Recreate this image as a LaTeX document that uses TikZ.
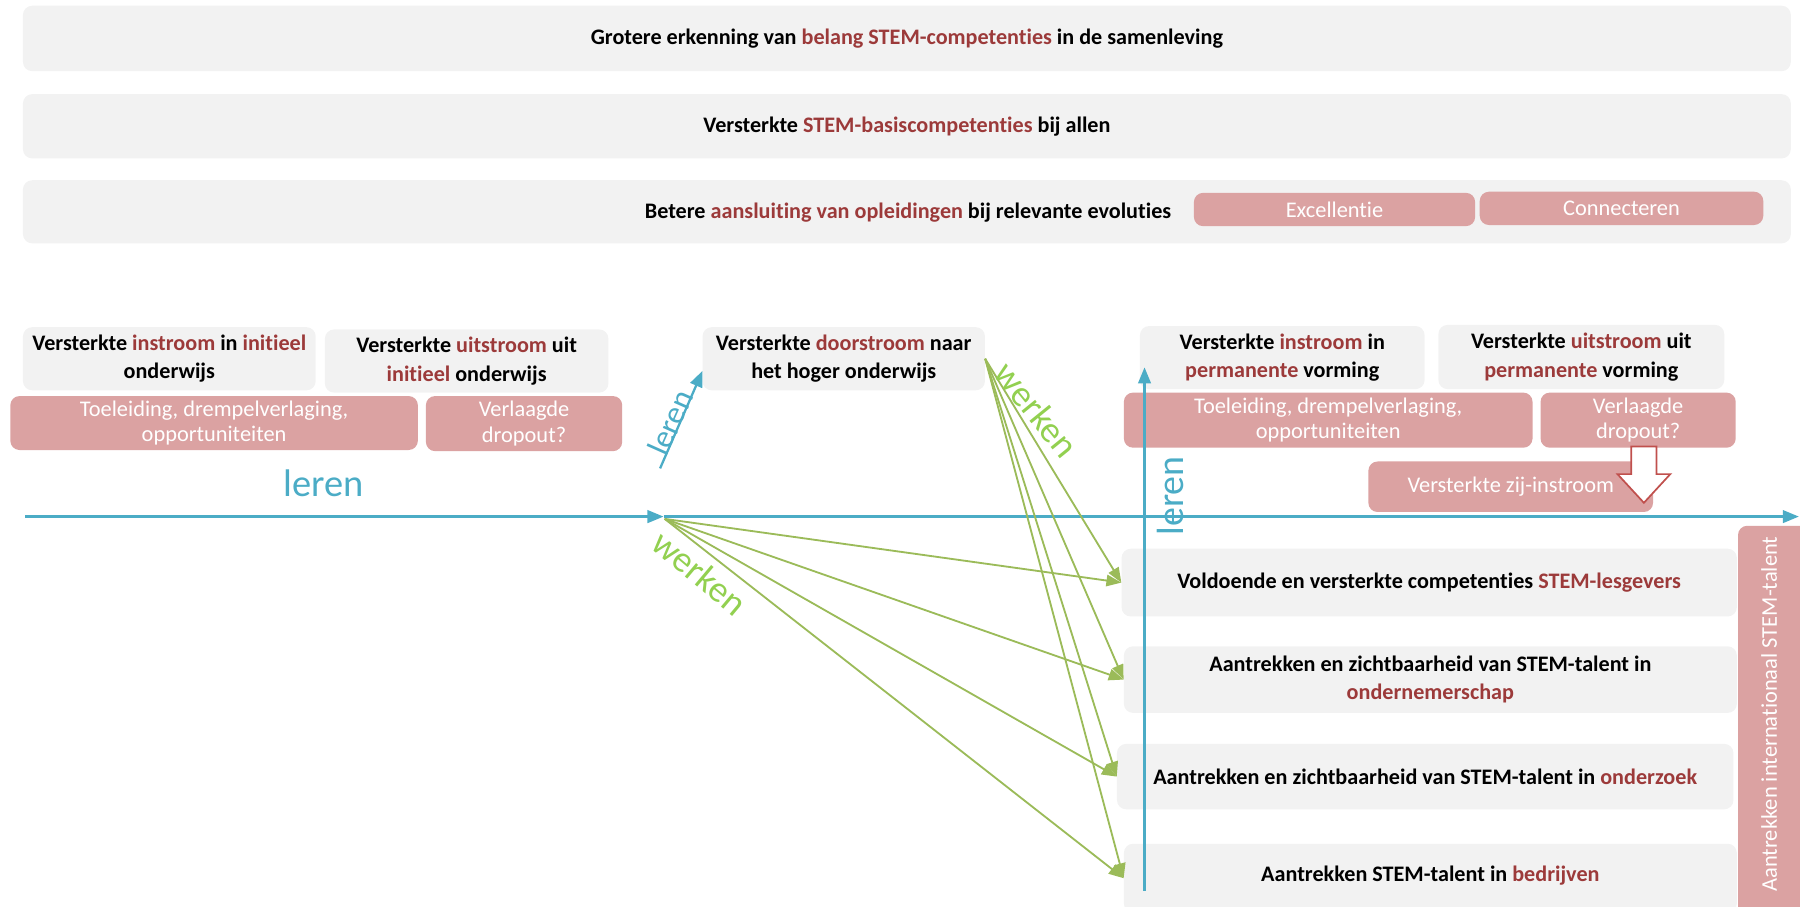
\documentclass[tikz,border=0pt]{standalone}
\usepackage{fontspec}
\setmainfont{Carlito}[Ligatures={NoCommon}]
\usetikzlibrary{arrows.meta}
\definecolor{boxgray}{HTML}{F2F2F2}
\definecolor{pinkf}{HTML}{DBA2A2}
\definecolor{dred}{HTML}{9C3A3A}
\definecolor{lblue}{HTML}{4BACC6}
\definecolor{lgreen}{HTML}{9BBB59}
\definecolor{tgreen}{HTML}{92D050}
\definecolor{arrred}{HTML}{C0504D}
\newcommand\redt[1]{\textcolor{dred}{#1}}
\begin{document}
\begin{tikzpicture}[x=1pt,y=-1pt,
  graybox/.style={fill=boxgray, rounded corners=8pt, inner sep=0pt, align=center,
    font=\fontsize{19.3}{25}\selectfont\bfseries},
  pinkbox/.style={fill=pinkf, rounded corners=8pt, inner sep=0pt, align=center,
    text=white, font=\fontsize{19.5}{22}\selectfont},
  bluearr/.style={draw=lblue, line width=2pt, -{Triangle[length=14pt,width=11pt]}},
  greenarr/.style={draw=lgreen, line width=1.6pt, -{Triangle[length=13pt,width=10pt]}},
  bluetxt/.style={text=lblue, inner sep=0pt},
  greentxt/.style={text=tgreen, inner sep=0pt, font=\fontsize{32}{32}\selectfont}
]
\useasboundingbox (0,0) rectangle (1568,790);
\clip (0,0) rectangle (1568,790);

% top bands
\node[graybox, minimum width=1540pt, minimum height=57pt] (top1) at (790,33.5)
  {Grotere erkenning van \redt{belang STEM-competenties} in de samenleving};
\node[graybox, minimum width=1540pt, minimum height=56pt] (top2) at (790,110)
  {Versterkte \redt{STEM-basiscompetenties} bij allen};
\node[graybox, minimum width=1540pt, minimum height=55pt] (top3) at (790,184.5) {};
\node[inner sep=0pt, font=\fontsize{19.3}{25}\selectfont\bfseries] (top3t) at (791,185)
  {Betere \redt{aansluiting van opleidingen} bij relevante evoluties};
\node[pinkbox, minimum width=245pt, minimum height=29pt] (exc) at (1162.5,182.5) {Excellentie};
\node[pinkbox, minimum width=247pt, minimum height=29pt] (con) at (1412.5,181.5) {Connecteren};

% left section
\node[graybox, minimum width=255pt, minimum height=55pt] (in1) at (147.5,312.5)
  {Versterkte \redt{instroom} in \redt{initieel}\\onderwijs};
\node[graybox, minimum width=247pt, minimum height=55pt] (uit1) at (406.5,314.5)
  {Versterkte \redt{uitstroom} uit\\\redt{initieel} onderwijs};
\node[pinkbox, minimum width=355pt, minimum height=47pt] (toel1) at (186.5,368.5)
  {Toeleiding, drempelverlaging,\\opportuniteiten};
\node[pinkbox, minimum width=171pt, minimum height=48pt] (drop1) at (456.5,369)
  {Verlaagde\\dropout?};
\node[bluetxt, font=\fontsize{33.5}{33.5}\selectfont] (leren1) at (282,421) {leren};

\node[graybox, minimum width=246pt, minimum height=55pt] (door) at (735,312.5)
  {Versterkte \redt{doorstroom} naar\\het hoger onderwijs};

% right section
\node[graybox, minimum width=248pt, minimum height=55pt] (in2) at (1117,311.5)
  {Versterkte \redt{instroom} in\\\redt{permanente} vorming};
\node[graybox, minimum width=249pt, minimum height=56pt] (uit2) at (1377.5,311)
  {Versterkte \redt{uitstroom} uit\\\redt{permanente} vorming};
\node[pinkbox, minimum width=356pt, minimum height=48pt] (toel2) at (1157,366)
  {Toeleiding, drempelverlaging,\\opportuniteiten};
\node[pinkbox, minimum width=170pt, minimum height=48pt] (drop2) at (1427,366)
  {Verlaagde\\dropout?};
\node[pinkbox, minimum width=248pt, minimum height=44pt] (zij) at (1316,424)
  {Versterkte zij-instroom};

% block arrow
\draw[arrred, fill=white, line width=1.5pt]
  (1421,389) -- (1443,389) -- (1443,413) -- (1455,413) -- (1432,438)
  -- (1409,413) -- (1421,413) -- cycle;

\node[graybox, minimum width=536pt, minimum height=59pt] (lesg) at (1245,507.5)
  {Voldoende en versterkte competenties \redt{STEM-lesgevers}};
\node[graybox, minimum width=534pt, minimum height=58pt] (onder) at (1246,592)
  {Aantrekken en zichtbaarheid van STEM-talent in\\\redt{ondernemerschap}};
\node[graybox, minimum width=537pt, minimum height=57pt] (zoek) at (1241.5,676.5)
  {Aantrekken en zichtbaarheid van STEM-talent in \redt{onderzoek}};
\node[graybox, minimum width=534pt, minimum height=60pt] (bedr) at (1246,765) {};
\node[inner sep=0pt, font=\fontsize{19.3}{25}\selectfont\bfseries] (bedrt) at (1246,763)
  {Aantrekken STEM-talent in \redt{bedrijven}};

% international pink band
\node[pinkbox, minimum width=64pt, minimum height=350pt] (intl) at (1546,633) {};
\node[inner sep=0pt, text=white, rotate=90, font=\fontsize{19.6}{19.6}\selectfont] (intlt) at (1541,622)
  {Aantrekken internationaal STEM-talent};

% blue axes
\coordinate (hstart) at (22,450);
\coordinate (hmid) at (578,450);
\coordinate (hend) at (1567,450);
\coordinate (dstart) at (575,408);
\coordinate (dend) at (612,323);
\coordinate (vstart) at (997,776);
\coordinate (vend) at (997,320);
\draw[bluearr] (hstart) -- (hmid);
\draw[bluearr] (hmid) -- (hend);
\draw[bluearr] (dstart) -- (dend);
\draw[bluearr] (vstart) -- (vend);

\node[bluetxt, rotate=66, font=\fontsize{28}{28}\selectfont] (leren2) at (584,368) {leren};
\node[bluetxt, rotate=90, font=\fontsize{33}{33}\selectfont] (leren3) at (1020,432) {leren};

% green arrows
\coordinate (gsrc) at (579,452);
\foreach \t in {lesg,onder,zoek,bedr} {
  \draw[greenarr] (gsrc) -- (\t.west);
  \draw[greenarr] (door.east) -- (\t.west);
}
\node[greentxt, rotate=-40] (werk1) at (610,499) {werken};
\node[greentxt, rotate=-51] (werk2) at (903,357) {werken};
\end{tikzpicture}
\end{document}
